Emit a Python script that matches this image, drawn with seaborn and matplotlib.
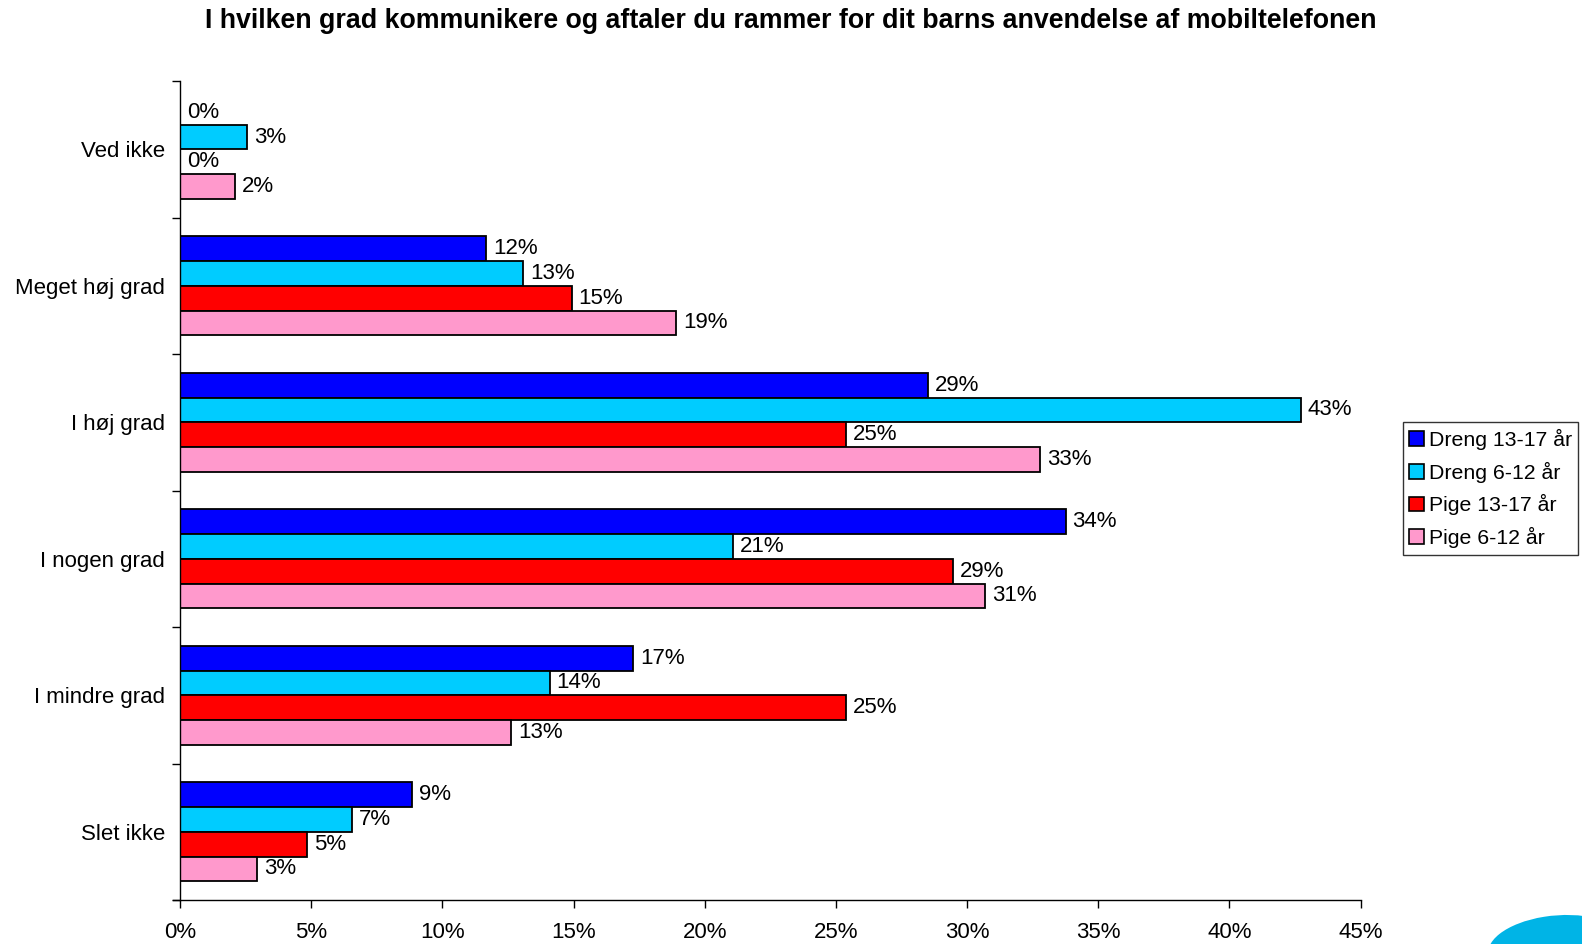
import matplotlib
matplotlib.use("Agg")
import matplotlib.pyplot as plt
import seaborn as sns
import pandas as pd
import numpy as np
from matplotlib.patches import Ellipse

categories = ["Ved ikke", "Meget høj grad", "I høj grad", "I nogen grad", "I mindre grad", "Slet ikke"]
series = ["Dreng 13-17 år", "Dreng 6-12 år", "Pige 13-17 år", "Pige 6-12 år"]
dreng_13_17 = [0.0, 11.66, 28.52, 33.76, 17.28, 8.85]
dreng_6_12 = [2.55, 13.09, 42.73, 21.09, 14.09, 6.54]
pige_13_17 = [0.0, 14.93, 25.4, 29.48, 25.4, 4.85]
pige_6_12 = [2.08, 18.9, 32.8, 30.68, 12.62, 2.93]
colors = ["#0000FF", "#00CCFF", "#FF0000", "#FF99CC"]
xticks = [0, 5, 10, 15, 20, 25, 30, 35, 40, 45]
title = "I hvilken grad kommunikere og aftaler du rammer for dit barns anvendelse af mobiltelefonen"

rows = []
for s, vals in zip(series, [dreng_13_17, dreng_6_12, pige_13_17, pige_6_12]):
    for c, v in zip(categories, vals):
        rows.append({"cat": c, "series": s, "val": v})
df = pd.DataFrame(rows)

sns.set_style("white")
plt.rcParams["font.family"] = ["Liberation Sans", "DejaVu Sans"]
plt.rcParams["text.color"] = "black"
plt.rcParams["axes.labelcolor"] = "black"
plt.rcParams["xtick.color"] = "black"
plt.rcParams["ytick.color"] = "black"

fig = plt.figure(figsize=(15.82, 9.44), dpi=100)
ax = fig.add_axes([0.1138, 0.0466, 0.7462, 0.8674])

sns.barplot(data=df, y="cat", x="val", hue="series", order=categories, hue_order=series,
            palette=colors, orient="h", width=0.725, edgecolor="black", linewidth=1.3,
            saturation=1, ax=ax, legend=True)

for cont in ax.containers:
    ax.bar_label(cont, labels=[f"{round(b.get_width())}%" for b in cont], padding=5,
                 fontsize=16, color="black")

ax.set_xlim(0, 45)
ax.set_ylim(5.5, -0.5)
ax.set_xticks(xticks)
ax.set_xticklabels([f"{t}%" for t in xticks], fontsize=16)
ax.set_yticks(np.arange(-0.5, 6, 1))
ax.set_yticklabels([])
ax.set_yticks(range(len(categories)), minor=True)
ax.set_yticklabels(categories, minor=True, fontsize=16)
ax.tick_params(axis="y", which="minor", length=0, pad=11)
ax.tick_params(axis="y", which="major", length=6, width=1, direction="out", left=True, color="black")
ax.tick_params(axis="x", length=6, width=1, direction="out", bottom=True, color="black", pad=10)
ax.set_xlabel("")
ax.set_ylabel("")
for side in ["top", "right"]:
    ax.spines[side].set_visible(False)
for side in ["left", "bottom"]:
    ax.spines[side].set_color("black")
    ax.spines[side].set_linewidth(1)
ax.spines["bottom"].set_bounds(-0.25, 45)

leg = ax.legend(loc="upper left", bbox_to_anchor=(0.8868, 0.5525), bbox_transform=fig.transFigure,
                frameon=True, fancybox=False, edgecolor="black", fontsize=15.3,
                handlelength=0.7, handleheight=0.7, handletextpad=0.22, borderpad=0.3,
                labelspacing=0.55, borderaxespad=0)
leg.get_frame().set_linewidth(1)
for h in leg.legend_handles:
    h.set_edgecolor("black")
    h.set_linewidth(1.2)

fig.text(0.5, 0.978, title, ha="center", va="center", fontsize=19.3, fontweight="bold", color="black")

fig.patches.append(Ellipse((0.985, -0.005), 0.09, 0.07, angle=15, transform=fig.transFigure,
                           facecolor="#00B4E6", edgecolor="none", figure=fig))

fig.savefig("out.png", dpi=100)
